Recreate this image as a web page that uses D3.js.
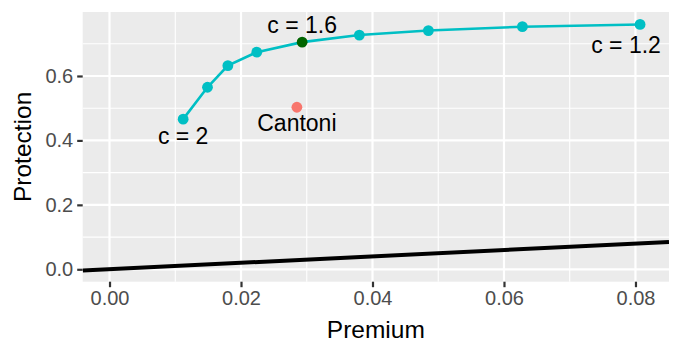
<!DOCTYPE html>
<html>
<head>
<meta charset="utf-8">
<script src="https://cdn.jsdelivr.net/npm/d3@7"></script>
<style>
  body { margin: 0; background: #fff; }
  text { font-family: "Liberation Sans", Arial, sans-serif; }
</style>
</head>
<body>
<div id="chart"></div>
<script>
// frontier for c from 2 down to 1.2
var cValues = [2, 1.9, 1.8, 1.7, 1.6, 1.5, 1.4, 1.3, 1.2]
var premium = [0.0112, 0.0149, 0.0180, 0.0224, 0.0293, 0.0380, 0.0485, 0.0628, 0.0807]
var protection = [0.466, 0.565, 0.632, 0.674, 0.705, 0.727, 0.741, 0.753, 0.760]
var highlightC = 1.6

var cantoni = { label: "Cantoni", premium: 0.0285, protection: 0.503 }

var xTicks = [0, 0.02, 0.04, 0.06, 0.08]
var xMinor = [0.01, 0.03, 0.05, 0.07]
var yTicks = [0, 0.2, 0.4, 0.6]
var yMinor = [0.1, 0.3, 0.5, 0.7]

var W = 681, H = 355
var panel = { left: 82.7, right: 669, top: 12, bottom: 281.7 }

var x = d3.scaleLinear().domain([-0.00408, 0.0851]).range([panel.left, panel.right])
var y = d3.scaleLinear().domain([-0.0385, 0.7986]).range([panel.bottom, panel.top])

var svg = d3.select("#chart").append("svg")
    .attr("width", W)
    .attr("height", H)

svg.append("rect")
    .attr("x", panel.left).attr("y", panel.top)
    .attr("width", panel.right - panel.left)
    .attr("height", panel.bottom - panel.top)
    .attr("fill", "#EBEBEB")

var grid = svg.append("g")
grid.selectAll(".xminor").data(xMinor).join("line")
    .attr("x1", d => x(d)).attr("x2", d => x(d))
    .attr("y1", panel.top).attr("y2", panel.bottom)
    .attr("stroke", "#fff").attr("stroke-width", 1.1)
grid.selectAll(".yminor").data(yMinor).join("line")
    .attr("y1", d => y(d)).attr("y2", d => y(d))
    .attr("x1", panel.left).attr("x2", panel.right)
    .attr("stroke", "#fff").attr("stroke-width", 1.1)
grid.selectAll(".xmajor").data(xTicks).join("line")
    .attr("x1", d => x(d)).attr("x2", d => x(d))
    .attr("y1", panel.top).attr("y2", panel.bottom)
    .attr("stroke", "#fff").attr("stroke-width", 2.2)
grid.selectAll(".ymajor").data(yTicks).join("line")
    .attr("y1", d => y(d)).attr("y2", d => y(d))
    .attr("x1", panel.left).attr("x2", panel.right)
    .attr("stroke", "#fff").attr("stroke-width", 2.2)

// axes
var xAxis = svg.append("g")
    .attr("transform", `translate(0,${panel.bottom})`)
    .call(d3.axisBottom(x).tickValues(xTicks).tickFormat(d3.format(".2f")).tickSize(5.5).tickPadding(4))
var yAxis = svg.append("g")
    .attr("transform", `translate(${panel.left},0)`)
    .call(d3.axisLeft(y).tickValues(yTicks).tickFormat(d3.format(".1f")).tickSize(5.5).tickPadding(4))

;[xAxis, yAxis].forEach(a => {
    a.select(".domain").remove()
    a.selectAll(".tick line").attr("stroke", "#333").attr("stroke-width", 2.2)
    a.selectAll(".tick text").attr("fill", "#4D4D4D").style("font-size", "20px")
})

svg.append("text")
    .attr("x", (panel.left + panel.right) / 2).attr("y", 338)
    .attr("text-anchor", "middle")
    .style("font-size", "24.5px")
    .text("Premium")
svg.append("text")
    .attr("transform", `translate(31,${(panel.top + panel.bottom) / 2}) rotate(-90)`)
    .attr("text-anchor", "middle")
    .style("font-size", "24.5px")
    .text("Protection")

// clip the reference line to the panel
svg.append("clipPath").attr("id", "clip")
    .append("rect")
    .attr("x", panel.left).attr("y", panel.top)
    .attr("width", panel.right - panel.left)
    .attr("height", panel.bottom - panel.top)

var marks = svg.append("g").attr("clip-path", "url(#clip)")

// y = x line
var xd = x.domain()
marks.append("path")
    .datum(xd)
    .attr("d", d3.line().x(d => x(d)).y(d => y(d)))
    .attr("stroke", "#000").attr("stroke-width", 4).attr("fill", "none")

var frontier = cValues.map((c, i) => ({ c: c, premium: premium[i], protection: protection[i] }))

marks.append("path")
    .datum(frontier)
    .attr("d", d3.line().x(d => x(d.premium)).y(d => y(d.protection)))
    .attr("stroke", "#00BFC4").attr("stroke-width", 2.6).attr("fill", "none")

marks.selectAll(".pt").data(frontier).join("circle")
    .attr("cx", d => x(d.premium))
    .attr("cy", d => y(d.protection))
    .attr("r", 5.4)
    .attr("fill", d => d.c === highlightC ? "#006400" : "#00BFC4")

marks.append("circle")
    .attr("cx", x(cantoni.premium))
    .attr("cy", y(cantoni.protection))
    .attr("r", 5.4)
    .attr("fill", "#F8766D")

// labels
var first = frontier[0]
var mid = frontier.find(d => d.c === highlightC)
var last = frontier[frontier.length - 1]
var labels = [
    { text: "c = 2", px: x(first.premium), py: y(first.protection) + 24.7 },
    { text: "c = 1.6", px: x(mid.premium), py: y(mid.protection) - 9 },
    { text: "c = 1.2", px: x(last.premium) - 14, py: y(last.protection) + 29 },
    { text: cantoni.label, px: x(cantoni.premium), py: y(cantoni.protection) + 23.4 }
]
svg.selectAll(".lab").data(labels).join("text")
    .attr("x", d => d.px).attr("y", d => d.py)
    .attr("text-anchor", "middle")
    .style("font-size", "23px")
    .attr("fill", "#000")
    .text(d => d.text)
</script>
</body>
</html>
